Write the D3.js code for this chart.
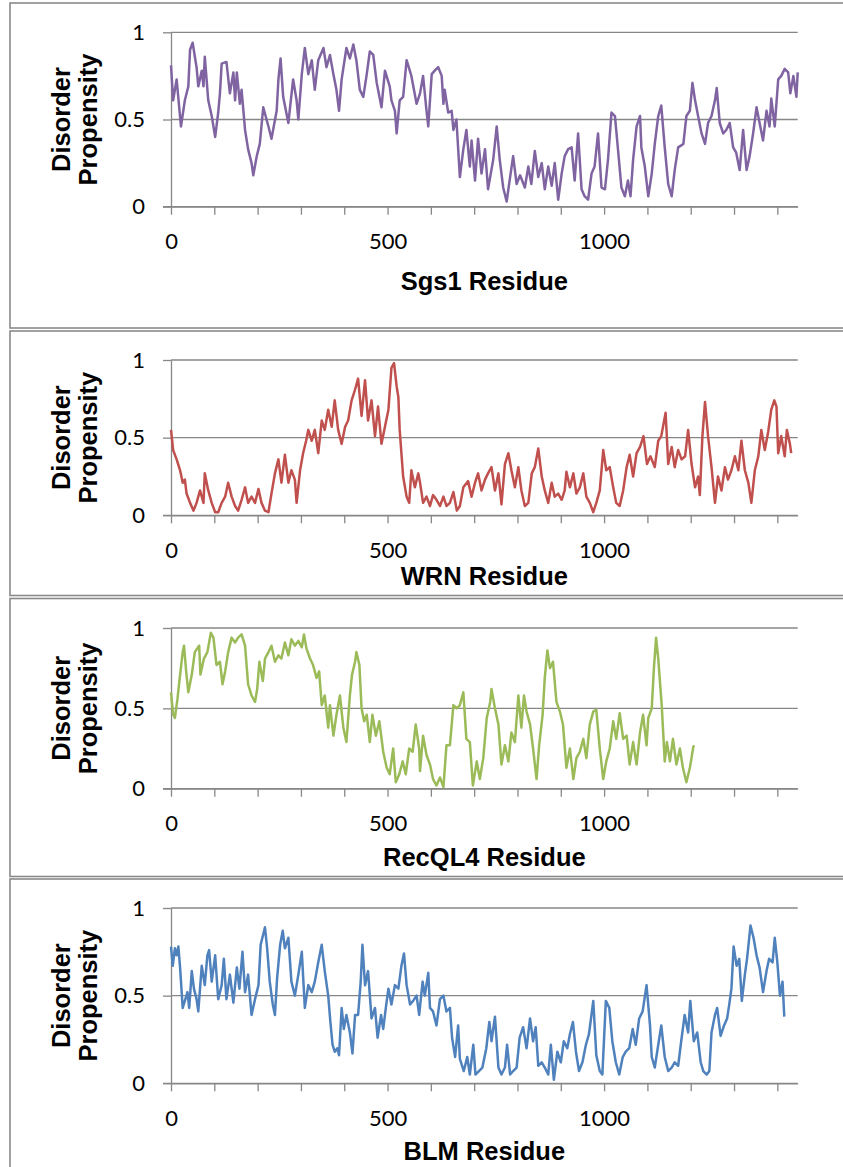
<!DOCTYPE html>
<html><head><meta charset="utf-8">
<script src="https://cdn.jsdelivr.net/npm/d3@7"></script>
<style>body{margin:0;background:#fff}svg{display:block}</style>
</head><body><svg id="c" width="843" height="1167"></svg>
<script>
// ---------------- DATA ----------------
const seriesNames = ["Sgs1", "WRN", "RecQL4", "BLM"];
const xTickLabels = [0, 500, 1000];
const yTickLabels = [0, 0.5, 1];
const xAxisTitles = ["Sgs1 Residue", "WRN Residue", "RecQL4 Residue", "BLM Residue"];
const yAxisTitle = ["Disorder", "Propensity"];

const sgs1Residue = [0,5,13,23,32,40,44,50,59,63,71,75,78,86,94,102,109,113,117,128,136,144,148,152,159,163,171,178,186,190,198,205,213,225,232,244,248,253,259,271,282,290,294,302,309,317,325,332,340,352,359,367,375,382,388,394,405,413,421,428,436,444,452,459,467,475,486,494,505,509,517,521,528,536,544,555,567,575,
582,590,594,602,609,617,625,629,632,640,648,652,659,667,675,682,690,694,702,709,717,725,732,744,752,759,767,775,783,790,798,806,817,825,832,840,848,856,863,871,879,886,894,902,909,917,925,932,940,948,955,963,971,978,986,994,1002,1009,1017,1025,1032,1040,1048,1055,1061,1067,1075,1083,1086,1094,1102,1110,1117,1125,1132,1140,1148,1156,1163,1171,1183,1190,1198,1204,1210,1217,1225,1233,1240,1248,1256,1260,1267,1275,1282,1290,1298,1305,1313,1321,1329,1336,1344,1352,1359,1367,1375,1382,1386,1394,1402,1409,1417,1425,1430,1437,1444,1447];
const sgs1Disorder = [0.81,0.61,0.73,0.46,0.61,0.69,0.90,0.94,0.80,0.69,0.78,0.69,0.86,0.61,0.52,0.40,0.54,0.65,0.82,0.83,0.65,0.77,0.61,0.77,0.59,0.67,0.44,0.33,0.25,0.18,0.29,0.36,0.57,0.46,0.39,0.55,0.73,0.85,0.63,0.48,0.73,0.61,0.50,0.76,0.91,0.76,0.84,0.67,0.84,0.91,0.80,0.87,0.76,0.67,0.55,0.73,0.91,0.85,0.93,0.84,0.67,0.63,0.76,0.89,0.87,0.71,0.57,0.78,0.69,0.61,0.55,0.42,0.61,0.63,0.84,0.75,0.59,0.65,
0.75,0.55,0.46,0.76,0.78,0.80,0.75,0.59,0.67,0.54,0.55,0.44,0.50,0.17,0.33,0.44,0.23,0.38,0.15,0.39,0.19,0.33,0.10,0.27,0.46,0.27,0.11,0.03,0.17,0.29,0.13,0.18,0.11,0.23,0.13,0.32,0.17,0.25,0.10,0.23,0.12,0.25,0.04,0.19,0.29,0.33,0.34,0.15,0.42,0.10,0.06,0.04,0.19,0.23,0.42,0.11,0.10,0.27,0.54,0.52,0.33,0.11,0.06,0.15,0.06,0.27,0.46,0.52,0.34,0.23,0.06,0.19,0.36,0.52,0.58,0.34,0.13,0.06,0.21,0.34,0.36,0.52,0.55,0.71,0.61,0.52,0.42,0.36,0.48,0.52,0.61,0.68,0.48,0.42,0.44,0.48,0.34,0.31,0.21,0.44,0.21,0.29,0.42,0.57,0.48,0.38,0.55,0.46,0.62,0.46,0.73,0.75,0.79,0.77,0.65,0.75,0.63,0.77];

const wrnResidue = [0,5,13,21,27,32,36,44,52,59,67,75,78,86,94,102,109,117,125,132,140,148,155,163,171,178,186,194,202,209,217,225,232,240,248,255,263,271,278,286,290,298,305,312,317,325,332,340,348,355,363,371,378,386,394,402,409,417,425,432,440,448,455,463,471,478,486,494,502,509,515,521,525,528,536,544,550,555,563,571,
575,582,590,598,605,613,621,629,636,644,652,660,667,675,686,694,702,709,717,725,732,740,748,756,763,771,779,786,794,802,809,817,825,833,840,848,856,863,871,879,886,894,902,909,913,921,929,936,944,952,959,967,975,982,990,998,1005,1013,1021,1028,1036,1044,1052,1059,1067,1075,1083,1091,1099,1107,1117,1125,1132,1142,1148,1156,1163,1171,1179,1187,1194,1202,1210,1217,1221,1227,1233,1240,1248,1256,1263,1271,1279,1286,1294,1302,1310,1317,1325,1333,1340,1348,1356,1363,1371,1379,1386,1393,1398,1402,1409,1417,1422,1429,1432];
const wrnDisorder = [0.55,0.42,0.36,0.29,0.21,0.23,0.14,0.08,0.03,0.08,0.16,0.08,0.27,0.16,0.08,0.02,0.02,0.08,0.12,0.21,0.12,0.06,0.03,0.10,0.18,0.08,0.12,0.08,0.17,0.08,0.03,0.02,0.14,0.27,0.36,0.21,0.39,0.21,0.29,0.23,0.08,0.29,0.40,0.48,0.55,0.48,0.55,0.40,0.61,0.55,0.68,0.57,0.74,0.55,0.46,0.57,0.61,0.74,0.81,0.88,0.64,0.87,0.61,0.74,0.51,0.70,0.46,0.57,0.68,0.95,0.98,0.83,0.76,0.55,0.25,0.12,0.08,0.29,0.18,0.27,
0.21,0.08,0.12,0.06,0.13,0.10,0.06,0.12,0.06,0.08,0.15,0.03,0.06,0.18,0.22,0.12,0.21,0.27,0.16,0.23,0.27,0.31,0.16,0.27,0.07,0.33,0.40,0.29,0.18,0.31,0.16,0.06,0.08,0.27,0.31,0.43,0.25,0.16,0.08,0.21,0.12,0.14,0.10,0.16,0.28,0.18,0.27,0.14,0.18,0.27,0.12,0.08,0.02,0.08,0.16,0.42,0.29,0.31,0.18,0.08,0.06,0.16,0.31,0.39,0.25,0.40,0.44,0.51,0.33,0.38,0.31,0.48,0.51,0.66,0.33,0.44,0.31,0.42,0.36,0.38,0.55,0.33,0.18,0.25,0.13,0.51,0.73,0.51,0.31,0.08,0.25,0.16,0.31,0.23,0.29,0.38,0.29,0.48,0.29,0.21,0.08,0.29,0.38,0.55,0.42,0.54,0.68,0.74,0.70,0.40,0.51,0.38,0.55,0.46,0.40];

const recql4Residue = [0,5,9,15,21,27,30,35,40,48,55,65,68,76,84,92,98,105,113,119,125,132,140,148,155,163,171,178,186,194,199,204,212,217,225,232,240,248,255,263,271,278,286,294,302,307,313,321,328,336,342,348,355,363,367,375,382,390,398,405,413,418,425,428,435,440,446,452,459,465,473,481,490,498,505,513,519,527,535,542,550,558,565,573,
575,582,590,598,605,613,621,629,636,644,652,660,667,675,682,690,697,706,713,721,729,737,740,748,756,763,771,779,786,794,802,809,815,821,829,836,844,850,858,863,869,875,882,890,898,905,913,921,929,936,944,952,959,967,975,982,990,998,1005,1013,1021,1028,1036,1044,1052,1059,1067,1075,1083,1090,1098,1102,1110,1115,1120,1125,1133,1140,1145,1152,1159,1167,1175,1182,1190,1198,1206,1208];
const recql4Disorder = [0.60,0.46,0.44,0.56,0.71,0.85,0.89,0.73,0.60,0.71,0.85,0.89,0.71,0.81,0.85,0.97,0.94,0.77,0.79,0.65,0.73,0.85,0.94,0.91,0.94,0.96,0.89,0.65,0.58,0.54,0.62,0.79,0.67,0.81,0.85,0.89,0.79,0.83,0.81,0.91,0.83,0.93,0.89,0.92,0.88,0.96,0.87,0.81,0.77,0.69,0.73,0.52,0.58,0.38,0.52,0.33,0.46,0.58,0.38,0.29,0.58,0.71,0.79,0.85,0.77,0.50,0.42,0.46,0.29,0.46,0.33,0.42,0.23,0.13,0.09,0.25,0.04,0.09,0.17,0.09,0.25,0.23,0.40,0.25,
0.11,0.33,0.21,0.15,0.06,0.02,0.07,0.01,0.27,0.27,0.52,0.50,0.52,0.60,0.31,0.29,0.02,0.17,0.06,0.19,0.44,0.54,0.62,0.50,0.40,0.15,0.27,0.17,0.35,0.29,0.58,0.38,0.58,0.48,0.40,0.25,0.06,0.27,0.46,0.69,0.86,0.75,0.79,0.54,0.48,0.40,0.13,0.25,0.06,0.19,0.23,0.31,0.19,0.40,0.48,0.49,0.25,0.06,0.17,0.25,0.42,0.31,0.47,0.31,0.33,0.15,0.29,0.15,0.35,0.46,0.27,0.44,0.50,0.75,0.94,0.81,0.52,0.17,0.29,0.17,0.31,0.15,0.25,0.13,0.04,0.13,0.26,0.27];

const blmResidue = [0,4,9,13,17,21,27,32,38,42,48,53,59,63,71,78,84,88,94,102,109,117,122,128,136,144,152,158,165,171,178,186,194,202,207,213,217,222,228,235,240,245,252,258,263,271,278,286,294,302,309,317,325,332,340,348,355,363,368,373,378,384,388,394,399,405,413,419,425,432,438,442,448,455,463,471,477,485,490,496,502,509,517,525,532,538,544,552,559,567,573,
581,586,594,598,605,613,621,629,636,644,649,656,663,667,676,684,690,698,703,711,719,728,735,740,748,756,763,771,776,783,790,798,805,813,821,829,836,842,848,856,863,871,877,884,892,900,907,915,921,928,935,942,950,958,965,975,982,990,996,1004,1012,1019,1027,1035,1043,1050,1058,1066,1073,1081,1089,1098,1106,1110,1117,1125,1132,1140,1148,1156,1163,1171,1178,1186,1194,1199,1207,1215,1223,1229,1237,1243,1248,1256,1261,1269,1277,1284,1289,1294,1299,1306,1312,1318,1325,1330,1338,1345,1352,1359,1367,1375,1381,1389,1394,1400,1406,1412,1416];
const blmDisorder = [0.78,0.67,0.77,0.73,0.78,0.66,0.43,0.47,0.52,0.43,0.64,0.54,0.48,0.41,0.67,0.56,0.73,0.76,0.58,0.73,0.48,0.56,0.71,0.48,0.62,0.46,0.66,0.54,0.75,0.52,0.62,0.39,0.48,0.56,0.79,0.85,0.89,0.77,0.58,0.45,0.39,0.60,0.79,0.87,0.77,0.83,0.58,0.50,0.62,0.75,0.43,0.56,0.52,0.58,0.69,0.79,0.64,0.50,0.35,0.22,0.18,0.20,0.16,0.43,0.31,0.39,0.29,0.17,0.39,0.39,0.58,0.79,0.56,0.64,0.37,0.43,0.26,0.39,0.31,0.43,0.54,0.45,0.56,0.54,0.67,0.74,0.56,0.45,0.47,0.50,0.39,
0.58,0.50,0.63,0.43,0.41,0.33,0.48,0.50,0.41,0.43,0.26,0.15,0.33,0.14,0.07,0.15,0.05,0.22,0.05,0.07,0.09,0.20,0.35,0.24,0.38,0.09,0.05,0.09,0.22,0.05,0.07,0.09,0.26,0.32,0.20,0.37,0.24,0.32,0.10,0.12,0.09,0.05,0.22,0.02,0.18,0.12,0.24,0.20,0.28,0.35,0.18,0.07,0.12,0.22,0.28,0.47,0.16,0.07,0.05,0.47,0.43,0.24,0.12,0.05,0.15,0.18,0.20,0.31,0.22,0.37,0.41,0.56,0.33,0.15,0.09,0.22,0.33,0.15,0.07,0.09,0.12,0.10,0.24,0.39,0.29,0.47,0.24,0.29,0.12,0.07,0.05,0.07,0.29,0.39,0.43,0.27,0.33,0.37,0.45,0.54,0.78,0.67,0.71,0.47,0.62,0.71,0.90,0.83,0.73,0.66,0.52,0.64,0.71,0.69,0.83,0.69,0.50,0.58,0.38];

// ---------------- LAYOUT ----------------
const residues = [sgs1Residue, wrnResidue, recql4Residue, blmResidue];
const disorders = [sgs1Disorder, wrnDisorder, recql4Disorder, blmDisorder];
const colors = ["#8064A2", "#C0504D", "#9BBB59", "#4F81BD"];
const layout = [
  {top: 32.3, bottom: 206.7, box: [3, 328], titleY: 290},
  {top: 360, bottom: 515.3, box: [331, 595.5], titleY: 585},
  {top: 628, bottom: 788.7, box: [598.5, 876.5], titleY: 866},
  {top: 908, bottom: 1083.3, box: [879, 1180], titleY: 1160}
];
const gridColor = "#878787";
const titleFont = "'Liberation Sans', Arial, sans-serif";
const tickFont = "Lato, 'Open Sans', sans-serif";

const svg = d3.select("#c");
const x = d3.scaleLinear().domain([0, 1447]).range([171, 797.7]);

seriesNames.forEach((name, i) => {
  const L = layout[i];
  const y = d3.scaleLinear().domain([0, 1]).range([L.bottom, L.top]);
  const g = svg.append("g");

  // panel border (right side lies outside the picture)
  g.append("rect").attr("x", 10).attr("y", L.box[0])
    .attr("width", 900).attr("height", L.box[1] - L.box[0])
    .attr("fill", "none").attr("stroke", "#8a8a8a").attr("stroke-width", 1.6);

  // gridlines
  g.selectAll("line.grid").data(yTickLabels.filter(d => d > 0)).join("line")
    .attr("class", "grid")
    .attr("x1", x(0)).attr("x2", x(1447))
    .attr("y1", d => y(d)).attr("y2", d => y(d))
    .attr("stroke", gridColor).attr("stroke-width", 1.3);

  // y axis
  const yAxis = d3.axisLeft(y).tickValues(yTickLabels).tickSize(8).tickSizeOuter(0)
    .tickPadding(18).tickFormat(d => String(d));
  const ya = g.append("g").attr("transform", `translate(${x(0)},0)`).call(yAxis);

  // x axis
  const xAxis = d3.axisBottom(x).tickValues(d3.range(0, 1401, 100)).tickSize(8).tickSizeOuter(0)
    .tickPadding(19).tickFormat(d => xTickLabels.includes(d) ? String(d) : "");
  const xa = g.append("g").attr("transform", `translate(0,${y(0)})`).call(xAxis);

  [ya, xa].forEach(a => {
    a.selectAll("path.domain").attr("stroke", gridColor).attr("stroke-width", 1.3);
    a.selectAll(".tick line").attr("stroke", gridColor).attr("stroke-width", 1.3);
    a.selectAll("text").attr("font-family", tickFont).attr("font-size", 22).attr("fill", "#000");
  });
  // extend x-axis line to left tick
  g.append("line").attr("x1", x(0) - 8).attr("x2", x(1447)).attr("y1", y(0)).attr("y2", y(0))
    .attr("stroke", gridColor).attr("stroke-width", 1.3);

  // data line
  const pts = d3.zip(residues[i], disorders[i]);
  g.append("path").datum(pts)
    .attr("d", d3.line().x(d => x(d[0])).y(d => y(d[1])))
    .attr("fill", "none").attr("stroke", colors[i]).attr("stroke-width", 2.5)
    .attr("stroke-linejoin", "round");

  // axis titles
  const cy = (L.top + L.bottom) / 2;
  [70, 97].forEach((bx, k) => {
    g.append("text").attr("transform", `translate(${bx},${cy}) rotate(-90)`)
      .attr("text-anchor", "middle").attr("font-family", titleFont)
      .attr("font-weight", "bold").attr("font-size", 25.5).text(yAxisTitle[k]);
  });
  g.append("text").attr("x", (x(0) + x(1447)) / 2).attr("y", L.titleY)
    .attr("text-anchor", "middle").attr("font-family", titleFont)
    .attr("font-weight", "bold").attr("font-size", 25.5).text(xAxisTitles[i]);
});
</script></body></html>
